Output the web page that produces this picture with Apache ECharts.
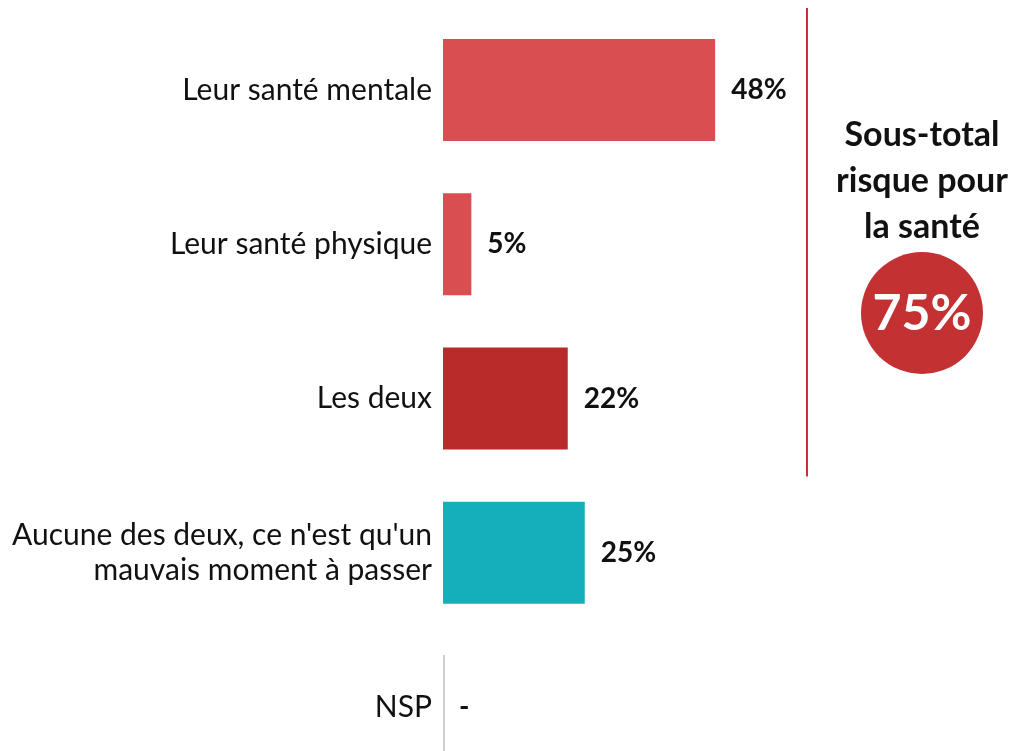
<!DOCTYPE html>
<html>
<head>
<meta charset="utf-8">
<script src="https://cdn.jsdelivr.net/npm/echarts@6/dist/echarts.min.js"></script>
<style>
  html, body { margin: 0; padding: 0; background: #fff; overflow: hidden; }
  #chart { width: 1013px; height: 800px; }
</style>
</head>
<body>
<div id="chart"></div>
<script>
// données
var categories = ['Leur santé mentale', 'Leur santé physique', 'Les deux', "Aucune des deux, ce n'est qu'un\nmauvais moment à passer", 'NSP'];
var values = [48, 5, 22, 25, null];
var barColors = ['#d94e50', '#d94e50', '#b92a2b', '#14afb8', '#cccccc'];
var subtotalTitle = ['Sous-total', 'risque pour', 'la santé'];
var subtotalValue = [75];

var font = 'Lato, "Open Sans", sans-serif';

var myChart = echarts.init(document.getElementById('chart'));

var seriesData = values.map(function (v, i) {
  return {
    value: v === null ? 0 : v,
    itemStyle: { color: barColors[i] }
  };
});

var option = {
  animation: false,
  grid: { left: 443, right: 3, top: 13, height: 771, containLabel: false },
  xAxis: {
    type: 'value', min: 0, max: 100,
    show: false
  },
  yAxis: {
    type: 'category',
    inverse: true,
    data: categories,
    axisLine: { show: false },
    axisTick: { show: false },
    axisLabel: {
      margin: 11,
      fontFamily: font, fontSize: 30, color: '#111', lineHeight: 35, align: 'right'
    }
  },
  series: [{
    type: 'bar',
    barWidth: 102,
    data: seriesData,
    label: {
      show: true, position: 'right', distance: 16,
      fontFamily: font, fontSize: 28, fontWeight: 'bold', color: '#111',
      formatter: function (p) {
        return values[p.dataIndex] === null ? '-' : p.value + '%';
      }
    }
  }]
};
myChart.setOption(option);

// décorations : ligne d'axe NSP, séparateur et sous-total
var x0 = myChart.convertToPixel({ xAxisIndex: 0 }, 0);
var yNsp = myChart.convertToPixel({ yAxisIndex: 0 }, categories.length - 1);
var yTop = myChart.convertToPixel({ yAxisIndex: 0 }, 0);
var yDeux = myChart.convertToPixel({ yAxisIndex: 0 }, 2);

var elements = [
  {
    type: 'line',
    shape: { x1: x0 + 1, y1: yNsp - 52, x2: x0 + 1, y2: 800 },
    style: { stroke: '#d0d0d0', lineWidth: 2 }
  },
  {
    type: 'line',
    shape: { x1: 807, y1: yTop - 82, x2: 807, y2: yDeux + 78 },
    style: { stroke: '#c9302f', lineWidth: 2 }
  },
  {
    type: 'circle',
    shape: { cx: 922, cy: 313, r: 61 },
    style: { fill: '#c33133' }
  },
  {
    type: 'text',
    x: 922, y: 314,
    style: {
      text: subtotalValue[0] + '%',
      fill: '#fff', font: 'bold 50px ' + font,
      align: 'center', verticalAlign: 'middle'
    }
  }
];
subtotalTitle.forEach(function (t, i) {
  elements.push({
    type: 'text',
    x: 922, y: 135 + i * 46,
    style: {
      text: t, fill: '#111', font: 'bold 34px ' + font,
      align: 'center', verticalAlign: 'middle'
    }
  });
});
myChart.setOption({ graphic: { elements: elements } });
</script>
</body>
</html>
